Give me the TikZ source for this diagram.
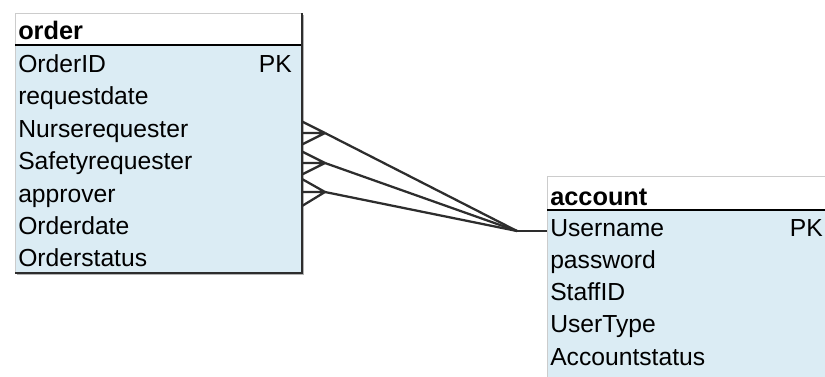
\documentclass[tikz,border=0pt]{standalone}
\usepackage{fontspec}
\setmainfont{Liberation Sans}
\definecolor{rowblue}{RGB}{219,236,244}
\definecolor{edgegray}{RGB}{45,45,45}
\tikzset{
  field/.style={anchor=base west, inner sep=0pt, font=\fontsize{18.5}{20}\selectfont},
  pkey/.style={anchor=base east, inner sep=0pt, font=\fontsize{18.5}{20}\selectfont},
  tabletitle/.style={anchor=base west, inner sep=0pt, font=\fontsize{19}{20}\selectfont\bfseries},
  rel/.style={draw=edgegray, line width=1.7pt},
}
\begin{document}
\begin{tikzpicture}[x=0.75pt, y=-0.75pt]
  \useasboundingbox (0,0) rectangle (825,376);

  % order table
  \fill[gray!60] (17,15) rectangle (304,275);
  \draw[gray!40, fill=white] (15,13) rectangle (302,45);
  \draw[gray!40, fill=rowblue] (15,45) rectangle (302,273);
  \draw[black, line width=1.3pt] (15,45) -- (302,45);
  \draw[edgegray, line width=1.3pt] (302,13) -- (302,273) -- (15,273);
  \node[tabletitle] (o-title) at (18,39.5) {order};
  \node[field] (o-id) at (18,72.5) {OrderID};
  \node[pkey] (o-pk) at (292,72.5) {PK};
  \node[field] (o-req) at (18,104.9) {requestdate};
  \node[field] (o-nurse) at (18,137.3) {Nurserequester};
  \node[field] (o-safety) at (18,169.7) {Safetyrequester};
  \node[field] (o-appr) at (18,202.1) {approver};
  \node[field] (o-date) at (18,234.5) {Orderdate};
  \node[field] (o-status) at (18,266.9) {Orderstatus};

  % account table
  \draw[gray!40, fill=white] (547,176) rectangle (830,210);
  \fill[rowblue] (547,210) rectangle (830,380);
  \draw[gray!40] (547,210) -- (547,380);
  \draw[black, line width=1.3pt] (547,210) -- (830,210);
  \node[tabletitle] (a-title) at (550,205) {account};
  \node[field] (a-user) at (550,236) {Username};
  \node[pkey] (a-pk) at (823,236) {PK};
  \node[field] (a-pass) at (550,268.3) {password};
  \node[field] (a-staff) at (550,300.6) {StaffID};
  \node[field] (a-type) at (550,332.9) {UserType};
  \node[field] (a-status) at (550,365.2) {Accountstatus};

  % crow's feet and relation lines
  \coordinate (foot1) at (325,133);
  \coordinate (foot2) at (325,163);
  \coordinate (foot3) at (325,192);
  \coordinate (hub) at (517,231);
  \coordinate (accedge) at (547,231);
  \draw[rel] (foot1) -- ++(-23,-11.5) (foot1) -- ++(-23,0) (foot1) -- ++(-23,11.5);
  \draw[rel] (foot2) -- ++(-23,-11.5) (foot2) -- ++(-23,0) (foot2) -- ++(-23,11.5);
  \draw[rel] (foot3) -- ++(-23,-13) (foot3) -- ++(-23,0) (foot3) -- ++(-23,14);
  \draw[rel] (foot1) -- (hub);
  \draw[rel] (foot2) -- (hub);
  \draw[rel] (foot3) -- (hub);
  \draw[rel] (hub) -- (accedge);
\end{tikzpicture}
\end{document}
